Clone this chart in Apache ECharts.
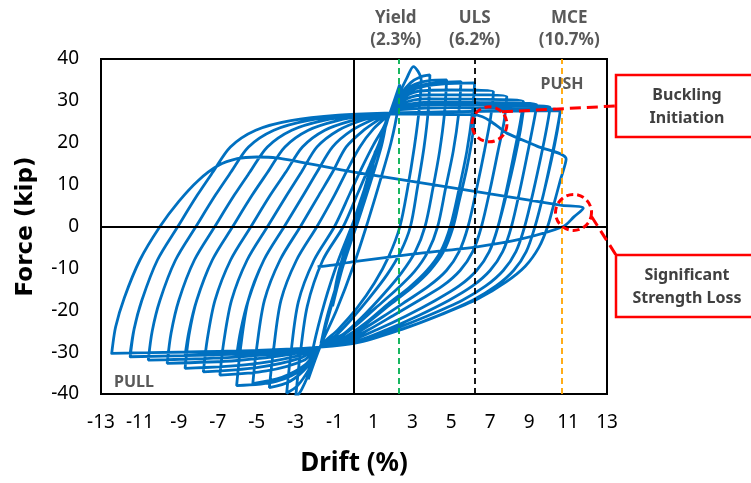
<!DOCTYPE html>
<html><head><meta charset="utf-8">
<script src="https://cdn.jsdelivr.net/npm/echarts@6/dist/echarts.min.js"></script>
<style>html,body{margin:0;padding:0;background:#fff}#c{width:751px;height:483px}</style>
</head><body><div id="c"></div><script>
// ---- tick labels ----
const xTickLabels = [-13,-11,-9,-7,-5,-3,-1,1,3,5,7,9,11,13];
const yTickLabels = [-40,-30,-20,-10,0,10,20,30,40];
// ---- reference drifts ----
const refDrift = [2.3, 6.2, 10.7];
const refName  = ['Yield', 'ULS', 'MCE'];
const refColor = ['#00B050', '#000000', '#FFA500'];
// ---- hysteresis path, cycle by cycle: [drift %, force kip] ----
const cycle00 = [[0,0],[0.6,10],[1.1,18],[0.85,12],[0.1,0],[-0.6,-10],[-1.1,-19],[-0.85,-12],[-0.1,0],[0.9,14],[1.7,26],[1.4,19],[0.4,4],[-0.6,-10],[-1.7,-28],[-1.35,-21],[-0.5,-8],[0.4,6],[1.3,20],[1.85,27.1],[2.35,33.9],[2.25,28],[1.9,20],[1.35,11],[0.7,1],[0,-9],[-0.9,-20],[-1.75,-28.8],[-2.35,-36.5]];
const cycle01 = [[-2.1,-29],[-1.5,-18],[-0.8,-8],[0,1.5],[0.7,11],[1.3,19.5],[1.85,27.1],[2.3,31.5],[2.7,35.3],[3.05,38.2],[3.45,35],[3.35,28],[3.1,19],[2.75,9],[2.36,0],[1.8,-7],[1.05,-13.5],[0.15,-19.5],[-0.8,-24.5],[-1.75,-28.8],[-2.3,-35],[-2.7,-39],[-3.0,-41]];
const cycle02 = [[-2.8,-32],[-2.4,-19],[-1.6,-8],[-0.55,0],[0.2,8],[0.8,14.5],[1.3,20],[1.6,23.5],[1.85,27.1],[2.4,31.5],[2.9,34.3],[3.4,35.7],[3.9,36.2],[3.82,28],[3.6,19],[3.25,9],[2.9,0],[2.4,-6],[1.7,-11.5],[0.8,-17],[-0.2,-22.5],[-1.0,-26.3],[-1.75,-28.8],[-2.3,-34],[-2.9,-38],[-3.46,-39.8]];
const cycle03 = [[-3.26,-31],[-2.86,-18],[-2.05,-8],[-1.0,0],[-0.2,8],[0.4,14],[1.0,19.5],[1.5,23.5],[1.85,27.1],[2.4,31.3],[3.0,33.7],[3.8,34.8],[4.76,35],[4.65,27],[4.4,18],[4.05,9],[3.65,0],[3.15,-6],[2.45,-11],[1.55,-16],[0.55,-21],[-0.5,-25.5],[-1.75,-28.8],[-2.4,-33.5],[-3.3,-37],[-4.35,-38.5]];
const cycle04 = [[-4.15,-30],[-3.75,-17.6],[-2.95,-8],[-1.9,0],[-1.0,7.5],[-0.4,13],[0.3,19],[1.0,23.3],[1.85,27.1],[2.4,31],[3.1,33.3],[4.2,34.3],[5.5,34.6],[5.38,27],[5.1,18],[4.7,9],[4.3,0],[3.8,-6],[3.1,-10.8],[2.2,-15],[1.1,-19.5],[0,-24],[-0.9,-27],[-1.75,-28.8],[-2.5,-33],[-3.7,-36],[-5.2,-37.5]];
const cycle05 = [[-5.0,-29],[-4.6,-17.6],[-3.8,-8],[-2.75,0],[-1.8,7.5],[-1.1,13],[-0.4,19],[0.5,23],[1.3,25.6],[1.85,27.1],[2.4,30.8],[3.2,33],[4.5,34],[6.2,34.3],[6.08,27],[5.8,18],[5.4,9],[4.95,0],[4.45,-6],[3.75,-10.5],[2.85,-14.5],[1.75,-18.5],[0.6,-23],[-0.6,-26.8],[-1.75,-28.8],[-2.5,-33.5],[-4,-37],[-6.03,-38]];
const cycle06 = [[-5.83,-29],[-5.43,-17.6],[-4.63,-8],[-3.58,0],[-2.6,7.5],[-1.9,13],[-1.1,19],[-0.1,23],[1.0,25.6],[1.85,27.1],[4,27.3],[6.2,27.5],[6.1,22],[5.8,14],[5.4,6],[5.1,0],[4.6,-6],[3.9,-10.5],[3.0,-14.5],[1.9,-18.5],[0.7,-23],[-0.5,-26.8],[-1.75,-28.8],[-3.5,-29.8],[-6.03,-30.8]];
const cycle07 = [[-5.83,-25],[-5.43,-17.6],[-4.63,-8],[-3.58,0],[-2.6,7.5],[-1.9,13],[-1.1,19],[-0.1,23],[1.0,25.6],[1.85,27.1],[2.4,30.3],[3.3,32.3],[5,32.6],[7.16,32.2],[7.02,26],[6.7,18],[6.3,9],[5.86,0],[5.4,-6],[4.75,-10.5],[3.85,-14.2],[2.7,-17.8],[1.5,-21.5],[0.3,-25],[-0.7,-27.6],[-1.75,-28.8],[-2.6,-32],[-4.5,-34.5],[-6.89,-35.5]];
const cycle08 = [[-6.69,-27.5],[-6.29,-17.6],[-5.49,-8],[-4.44,0],[-3.45,7.5],[-2.7,13],[-1.9,19],[-0.8,23],[0.5,25.5],[1.85,27.1],[2.4,29.8],[3.5,31.4],[5.5,31.5],[7.85,31],[7.71,25],[7.4,18],[7.0,9],[6.55,0],[6.1,-6],[5.45,-10.5],[4.55,-14.2],[3.35,-17.6],[2.0,-21.3],[0.7,-24.8],[-0.5,-27.5],[-1.75,-28.8],[-2.8,-31.5],[-5,-33.7],[-7.74,-34.7]];
const cycle09 = [[-7.54,-27],[-7.14,-17.6],[-6.34,-8],[-5.29,0],[-4.3,7.5],[-3.5,13],[-2.65,19],[-1.5,23],[-0.1,25.3],[1.1,26.5],[1.85,27.1],[2.4,29.3],[3.7,30.5],[6,30.4],[8.7,29.9],[8.55,25],[8.25,18],[7.85,9],[7.4,0],[6.95,-6],[6.3,-10.5],[5.4,-14.2],[4.2,-17.6],[2.7,-21.3],[1.2,-24.6],[-0.2,-27.3],[-1.75,-28.8],[-3,-31],[-5.5,-33],[-8.68,-33.9]];
const cycle10 = [[-8.48,-26],[-8.08,-17.6],[-7.28,-8],[-6.23,0],[-5.23,7.5],[-4.43,13],[-3.55,19],[-2.35,23],[-0.85,25.3],[0.7,26.6],[1.85,27.1],[5,27.4],[8.7,27.6],[8.55,23],[8.25,16],[7.85,8],[7.4,0],[6.95,-6],[6.3,-10.5],[5.4,-14.2],[4.2,-17.6],[2.7,-21.3],[1.2,-24.6],[-0.2,-27.3],[-1.75,-28.8],[-4.5,-29.9],[-8.68,-30.8]];
const cycle11 = [[-8.48,-25],[-8.08,-17.6],[-7.28,-8],[-6.23,0],[-5.23,7.5],[-4.43,13],[-3.55,19],[-2.35,23],[-0.85,25.3],[0.7,26.6],[1.85,27.1],[2.4,28.8],[4,29.7],[6.5,29.6],[9.39,29.1],[9.24,25],[8.94,18],[8.54,9],[8.09,0],[7.64,-6],[6.99,-10.5],[6.09,-14.2],[4.89,-17.6],[3.3,-21.3],[1.7,-24.6],[0.1,-27.4],[-1.75,-28.8],[-3.2,-30.5],[-6,-32],[-9.6,-32.7]];
const cycle12 = [[-9.4,-25.5],[-9.0,-17.6],[-8.2,-8],[-7.15,0],[-6.15,7.5],[-5.35,13],[-4.45,19],[-3.2,23],[-1.6,25.3],[0.3,26.6],[1.85,27.1],[2.4,28.4],[4.5,29.1],[7.5,28.9],[10.07,28.5],[9.92,24],[9.62,17],[9.22,8.5],[8.77,0],[8.32,-6],[7.67,-10.5],[6.77,-14.2],[5.57,-17.6],[3.8,-21.3],[2.0,-24.6],[0.2,-27.5],[-1.75,-28.8],[-3.5,-30.2],[-6.5,-31.3],[-10.57,-31.9]];
const cycle13 = [[-10.37,-25],[-9.97,-17.6],[-9.17,-8],[-8.12,0],[-7.12,7.5],[-6.32,13],[-5.42,19],[-4.12,23],[-2.4,25.3],[-0.2,26.6],[1.85,27.1],[2.4,27.9],[5,28.4],[8,28.2],[10.6,27.9],[10.45,23.5],[10.15,16.5],[9.75,8],[9.3,0],[8.85,-6],[8.2,-10.5],[7.3,-14.2],[6.1,-17.6],[4.3,-21.3],[2.4,-24.6],[0.3,-27.6],[-1.75,-28.8],[-4,-30],[-7.5,-30.7],[-11.5,-31.1]];
const cycle14 = [[-11.3,-24.5],[-10.9,-17.6],[-10.1,-8],[-9.05,0],[-8.05,7.5],[-7.25,13],[-6.35,19],[-5.05,23],[-3.25,25.3],[-0.8,26.6],[1.85,27.1],[6,27.5],[10.6,27.7],[10.45,23],[10.15,16],[9.75,8],[9.3,0],[8.85,-6],[8.2,-10.5],[7.3,-14.2],[6.1,-17.6],[4.3,-21.3],[2.4,-24.6],[0.3,-27.6],[-1.75,-28.8],[-5,-29.7],[-11.5,-30.2]];
const cycle15 = [[-11.3,-24.5],[-10.9,-17.6],[-10.1,-8],[-9.05,0],[-8.05,7.5],[-7.25,13],[-6.35,19],[-5.05,23],[-3.25,25.3],[-0.8,26.4],[1.85,26.9],[4,26.8],[6.1,26.7],[6.6,26.2],[7.0,25.2],[7.5,23.5],[7.85,22.3],[9.4,19.2],[10.9,16.1],[10.6,11],[10.25,5],[9.95,0],[9.5,-5],[8.8,-9.5],[7.8,-13.3],[6.4,-17.2],[4.5,-21],[2.5,-24.5],[0.3,-27.6],[-1.75,-28.8],[-5,-29.6],[-9,-30],[-12.45,-30.3]];
const cycle16 = [[-12.25,-24],[-11.8,-17],[-11,-8],[-9.97,0],[-9,6],[-8,11],[-7,14.5],[-6,16.2],[-5,16.6],[-4,16.4],[0,13.0],[5,9.3],[10.6,5.1],[11.78,4.35],[11.3,2.3],[10.75,0],[8.5,-3.1],[6.4,-4.8],[3,-6.6],[0,-8.4],[-1.1,-9.2],[-1.87,-9.6]];

const loop = [].concat(cycle00,cycle01,cycle02,cycle03,cycle04,cycle05,cycle06,cycle07,cycle08,
  cycle09,cycle10,cycle11,cycle12,cycle13,cycle14,cycle15,cycle16);

const FONT = 'Noto Sans';
const chart = echarts.init(document.getElementById('c'), null, {renderer:'canvas'});
chart.setOption({
  animation: false,
  backgroundColor: '#fff',
  grid: {left: 101, right: 144, top: 59, bottom: 89, show: true, borderColor: '#000', borderWidth: 2,
         backgroundColor: 'transparent', outerBoundsMode: 'none'},
  xAxis: {
    type: 'value', min: -13, max: 13, interval: 1,
    name: 'Drift (%)', nameLocation: 'middle', nameGap: 57,
    nameTextStyle: {fontFamily: FONT, fontWeight: 'bold', fontSize: 26, color: '#000'},
    axisLine: {show: false}, axisTick: {show: false}, splitLine: {show: false},
    axisLabel: {margin: 19, fontFamily: FONT, fontSize: 19, color: '#000',
      formatter: v => xTickLabels.indexOf(Math.round(v)) >= 0 ? String(Math.round(v)) : ''}
  },
  yAxis: {
    type: 'value', min: -40, max: 40, interval: 10,
    name: 'Force (kip)', nameLocation: 'middle', nameGap: 63,
    nameTextStyle: {fontFamily: 'DejaVu Sans', fontWeight: 'bold', fontSize: 23, color: '#000'},
    axisLine: {show: false}, axisTick: {show: false}, splitLine: {show: false},
    axisLabel: {margin: 22, fontFamily: FONT, fontSize: 19, color: '#000',
      formatter: v => yTickLabels.indexOf(Math.round(v)) >= 0 ? String(Math.round(v)) : ''}
  },
  series: [
    { type: 'line', data: [], z: 1, silent: true,
      markLine: { silent: true, symbol: ['none','none'], label: {show: false},
        lineStyle: {color: '#000', width: 2, type: 'solid'},
        data: [{xAxis: 0}, {yAxis: 0}] } },
    { type: 'line', data: loop, z: 2, showSymbol: false, symbol: 'none', clip: true, silent: true,
      smooth: 0.3, lineStyle: {color: '#0070C0', width: 2.8} },
    { type: 'line', data: [], z: 3, silent: true,
      markLine: { silent: true, symbol: ['none','none'],
        data: refDrift.map((d, i) => ({
          xAxis: d,
          lineStyle: {color: refColor[i], width: 1.8, type: [6, 4]},
          label: {show: true, position: 'end', distance: 8,
            formatter: refName[i] + '\n(' + d + '%)',
            color: '#595959', fontFamily: FONT, fontWeight: 'bold', fontSize: 17, lineHeight: 22,
            padding: i === 2 ? [0,0,0,14] : (i === 0 ? [0,6,0,0] : 0)}
        })) } }
  ]
});

const c1 = chart.convertToPixel({gridIndex: 0}, [6.96, 24.4]);
const c2 = chart.convertToPixel({gridIndex: 0}, [11.28, 3.35]);
const red = '#FF0000';
const boxFont = 'bold 16px "Noto Sans"';
chart.setOption({
  graphic: [
    {type: 'circle', shape: {cx: c1[0], cy: c1[1], r: 17.5}, style: {fill: 'none', stroke: red, lineWidth: 3, lineDash: [7, 4]}, z: 10},
    {type: 'circle', shape: {cx: c2[0], cy: c2[1], r: 18}, style: {fill: 'none', stroke: red, lineWidth: 3, lineDash: [7, 4]}, z: 10},
    {type: 'line', shape: {x1: c1[0] + 12.5, y1: c1[1] - 12.5, x2: 616, y2: 106}, style: {stroke: red, lineWidth: 3, lineDash: [11, 6]}, z: 10},
    {type: 'line', shape: {x1: c2[0] + 18, y1: c2[1] + 4, x2: 616, y2: 255}, style: {stroke: red, lineWidth: 3, lineDash: [11, 6]}, z: 10},
    {type: 'rect', shape: {x: 616, y: 75, width: 170, height: 62}, style: {fill: '#fff', stroke: red, lineWidth: 2.5}, z: 11},
    {type: 'rect', shape: {x: 616, y: 255, width: 170, height: 62}, style: {fill: '#fff', stroke: red, lineWidth: 2.5}, z: 11},
    {type: 'text', x: 687, y: 95, style: {text: 'Buckling', font: boxFont, fill: '#404040', align: 'center', verticalAlign: 'middle'}, z: 12},
    {type: 'text', x: 687, y: 118, style: {text: 'Initiation', font: boxFont, fill: '#404040', align: 'center', verticalAlign: 'middle'}, z: 12},
    {type: 'text', x: 687, y: 275, style: {text: 'Significant', font: boxFont, fill: '#404040', align: 'center', verticalAlign: 'middle'}, z: 12},
    {type: 'text', x: 687, y: 298, style: {text: 'Strength Loss', font: boxFont, fill: '#404040', align: 'center', verticalAlign: 'middle'}, z: 12},
    {type: 'text', x: 562, y: 84, style: {text: 'PUSH', font: 'bold 16px "Noto Sans"', fill: '#595959', align: 'center', verticalAlign: 'middle'}, z: 12},
    {type: 'text', x: 134, y: 382, style: {text: 'PULL', font: 'bold 16px "Noto Sans"', fill: '#595959', align: 'center', verticalAlign: 'middle'}, z: 12}
  ]
});
</script></body></html>
